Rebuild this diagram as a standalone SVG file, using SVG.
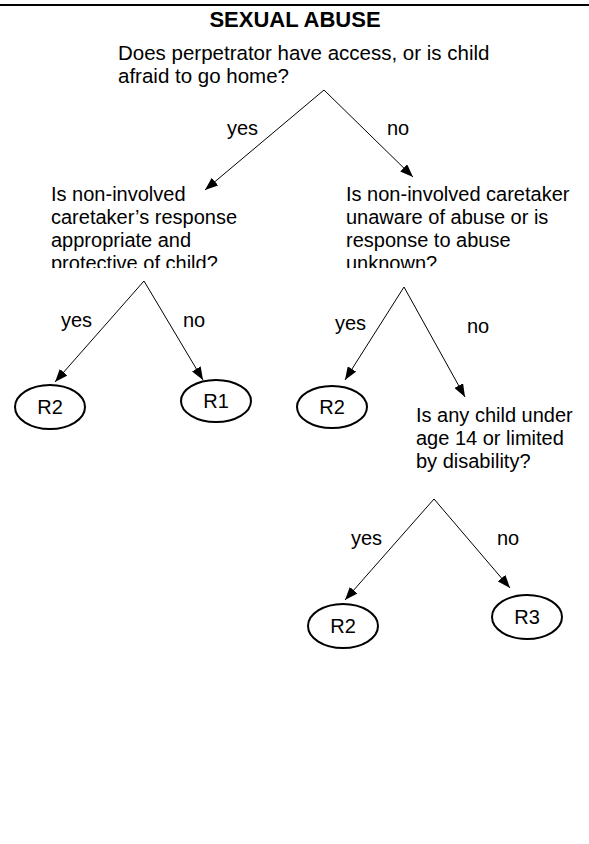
<svg xmlns="http://www.w3.org/2000/svg" width="589" height="844" viewBox="0 0 589 844">
<defs>
<style>
text{font-family:"Liberation Sans",Arial,sans-serif;font-size:20px;fill:#000}
.title{font-weight:bold;font-size:22px}
.q1{font-size:20.5px}
.edge{stroke:#000;stroke-width:1;fill:none;marker-end:url(#ah)}
.term{fill:#fff;stroke:#000;stroke-width:2}
</style>
<marker id="ah" markerUnits="userSpaceOnUse" markerWidth="14" markerHeight="10" refX="13" refY="5" orient="auto">
<path d="M0,0 L13,5 L0,10 Z" fill="#000"/>
</marker>
<clipPath id="clipQ"><rect x="0" y="180" width="589" height="88"/></clipPath>
</defs>
<rect width="589" height="844" fill="#fff"/>
<line x1="0" y1="5" x2="589" y2="5" stroke="#000" stroke-width="2"/>
<text class="title" x="295" y="27" text-anchor="middle">SEXUAL ABUSE</text>

<g id="connectors">
<path class="edge" d="M324,90 L205,190"/>
<path class="edge" d="M324,90 L413,177"/>
<path class="edge" d="M144,281 L55,382"/>
<path class="edge" d="M144,281 L203,380"/>
<path class="edge" d="M404,287 L345,380"/>
<path class="edge" d="M404,287 L465,397"/>
<path class="edge" d="M434,499 L345,600"/>
<path class="edge" d="M434,499 L510,588"/>
<text x="227" y="135">yes</text>
<text x="387" y="135">no</text>
<text x="61" y="327">yes</text>
<text x="183" y="327">no</text>
<text x="335" y="330">yes</text>
<text x="467" y="333">no</text>
<text x="351" y="545">yes</text>
<text x="497" y="545">no</text>
</g>

<g id="q1">
<text class="q1" x="118" y="60">Does perpetrator have access, or is child</text>
<text class="q1" x="118" y="83">afraid to go home?</text>
</g>
<g id="q2" clip-path="url(#clipQ)">
<text x="51" y="201">Is non-involved</text>
<text x="51" y="224">caretaker’s response</text>
<text x="51" y="247">appropriate and</text>
<text x="51" y="270">protective of child?</text>
</g>
<g id="q3" clip-path="url(#clipQ)">
<text x="346" y="201">Is non-involved caretaker</text>
<text x="346" y="224">unaware of abuse or is</text>
<text x="346" y="247">response to abuse</text>
<text x="346" y="270">unknown?</text>
</g>
<g id="q4">
<text x="416" y="422">Is any child under</text>
<text x="416" y="445">age 14 or limited</text>
<text x="416" y="468">by disability?</text>
</g>
<g id="r2a">
<ellipse class="term" cx="50" cy="407" rx="35" ry="22"/>
<text x="50" y="414" text-anchor="middle">R2</text>
</g>
<g id="r1">
<ellipse class="term" cx="216" cy="401" rx="35" ry="21"/>
<text x="216" y="408" text-anchor="middle">R1</text>
</g>
<g id="r2b">
<ellipse class="term" cx="332" cy="407" rx="35" ry="21"/>
<text x="332" y="414" text-anchor="middle">R2</text>
</g>
<g id="r2c">
<ellipse class="term" cx="343" cy="626" rx="35" ry="22"/>
<text x="343" y="633" text-anchor="middle">R2</text>
</g>
<g id="r3">
<ellipse class="term" cx="527" cy="617" rx="35" ry="22"/>
<text x="527" y="624" text-anchor="middle">R3</text>
</g>
</svg>
